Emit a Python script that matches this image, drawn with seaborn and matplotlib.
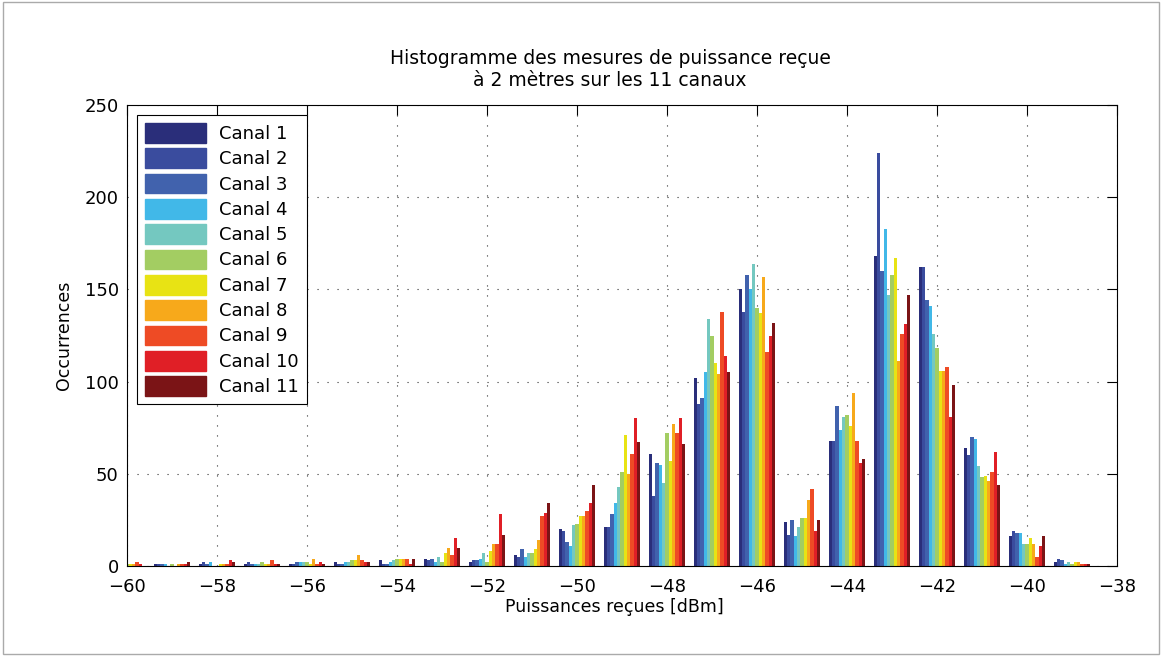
import matplotlib
matplotlib.use('Agg')
import matplotlib.pyplot as plt
import matplotlib.patches as mpatches
import pandas as pd
import seaborn as sns

# bins de puissance (dBm)
puissances = list(range(-60, -38))

canal_1 = [1, 1, 1, 1, 1, 2, 3, 4, 2, 6, 20, 21, 61, 102, 150, 24, 68, 168, 162, 64, 16, 2]
canal_2 = [1, 1, 2, 2, 1, 1, 1, 3, 3, 5, 19, 21, 38, 88, 138, 17, 68, 224, 162, 60, 19, 4]
canal_3 = [1, 1, 1, 1, 2, 1, 1, 4, 3, 9, 13, 28, 56, 91, 158, 25, 87, 160, 144, 70, 18, 3]
canal_4 = [1, 1, 2, 1, 2, 2, 2, 2, 4, 5, 11, 34, 55, 105, 150, 16, 74, 183, 141, 69, 18, 1]
canal_5 = [1, 0, 0, 1, 2, 2, 3, 5, 7, 7, 22, 43, 45, 134, 164, 21, 81, 147, 126, 54, 12, 2]
canal_6 = [1, 1, 0, 2, 2, 3, 4, 2, 2, 7, 23, 51, 72, 125, 140, 26, 82, 158, 118, 48, 12, 1]
canal_7 = [1, 0, 1, 1, 1, 3, 4, 7, 8, 9, 27, 71, 57, 110, 137, 26, 76, 167, 106, 49, 15, 2]
canal_8 = [1, 1, 1, 1, 4, 6, 4, 10, 12, 14, 27, 50, 77, 104, 157, 36, 94, 111, 106, 46, 12, 2]
canal_9 = [2, 1, 1, 3, 1, 3, 4, 6, 12, 27, 30, 61, 72, 138, 116, 42, 68, 126, 108, 51, 5, 1]
canal_10 = [1, 1, 3, 1, 2, 2, 1, 15, 28, 29, 34, 80, 80, 114, 125, 19, 56, 131, 81, 62, 11, 1]
canal_11 = [0, 2, 2, 1, 1, 2, 4, 10, 17, 34, 44, 67, 66, 105, 132, 25, 58, 147, 98, 44, 16, 1]

canaux = [canal_1, canal_2, canal_3, canal_4, canal_5, canal_6,
          canal_7, canal_8, canal_9, canal_10, canal_11]
noms = [f'Canal {i}' for i in range(1, 12)]

couleurs = ['#2a2e7a', '#3a4c9e', '#4162ad', '#41b8e8', '#74c8c0', '#a3cd62',
            '#e8e314', '#f7a91b', '#ee4b25', '#e01f26', '#7b1416']

# tableau long pour seaborn
rows = []
for nom, valeurs in zip(noms, canaux):
    for p, v in zip(puissances, valeurs):
        rows.append({'puissance': p, 'occurrences': v, 'canal': nom})
df = pd.DataFrame(rows)

sns.set_theme(style='white')
plt.rcParams['font.family'] = ['DejaVu Sans']
plt.rcParams['text.color'] = 'black'
plt.rcParams['axes.labelcolor'] = 'black'
plt.rcParams['xtick.color'] = 'black'
plt.rcParams['ytick.color'] = 'black'

fig = plt.figure(figsize=(11.62, 6.56), dpi=100)
ax = fig.add_axes([0.1093, 0.1372, 0.852, 0.7027])

sns.barplot(data=df, x='puissance', y='occurrences', hue='canal', hue_order=noms,
            palette=couleurs, native_scale=True, width=0.82, gap=0, saturation=1,
            errorbar=None, linewidth=0, ax=ax, legend=False)

ax.set_xlim(-60, -38)
ax.set_ylim(0, 250)
ax.set_xticks(range(-60, -37, 2))
ax.set_yticks(range(0, 251, 50))
ax.tick_params(direction='in', top=True, right=True, length=7, width=0.8,
               labelsize=13, color='black')
ax.tick_params(axis='x', pad=9)
ax.tick_params(axis='y', pad=6)
ax.set_axisbelow(True)
ax.grid(True, linestyle=(0, (1, 8)), linewidth=0.8, color='#333333')
for s in ax.spines.values():
    s.set_color('black')
    s.set_linewidth(0.8)

ax.set_xlabel('Puissances reçues [dBm]', fontsize=12.5)
ax.xaxis.set_label_coords(0.4925, -0.069)
ax.set_ylabel('Occurrences', fontsize=12.5, labelpad=8)
ax.set_title('Histogramme des mesures de puissance reçue\nà 2 mètres sur les 11 canaux',
             fontsize=13.5, pad=14, linespacing=1.15, x=0.488)

handles = [mpatches.Patch(color=c, label=n) for c, n in zip(couleurs, noms)]
leg = ax.legend(handles=handles, loc='upper left', fontsize=13, frameon=True,
                fancybox=False, edgecolor='black', framealpha=1,
                handlelength=3.4, handleheight=1.3, labelspacing=0.3,
                handletextpad=0.7, borderpad=0.45, borderaxespad=0.55)
leg.get_frame().set_linewidth(0.8)

# cadre gris autour de la figure
fig.patches.append(mpatches.Rectangle((0.003, 0.003), 0.994, 0.994, transform=fig.transFigure,
                                      fill=False, edgecolor='#aaaaaa', linewidth=1))

plt.savefig('out.png', dpi=100)
plt.close()
